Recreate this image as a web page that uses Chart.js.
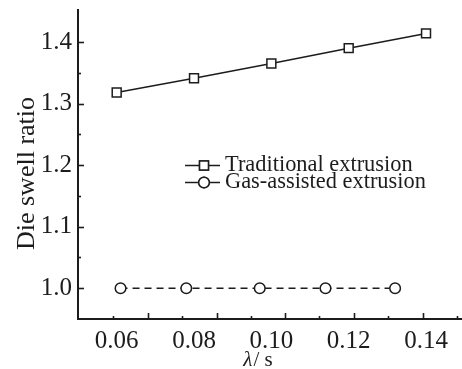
<!DOCTYPE html>
<html>
<head>
<meta charset="utf-8">
<script src="https://cdn.jsdelivr.net/npm/chart.js@4"></script>
<style>
  html, body { margin: 0; padding: 0; background: #ffffff; }
  #wrap { width: 462px; height: 369px; }
</style>
</head>
<body>
<div id="wrap"><canvas id="c" width="462" height="369"></canvas></div>
<script>
// ---- data ----
const traditionalX = [0.06, 0.08, 0.10, 0.12, 0.14];
const traditionalY = [1.318, 1.341, 1.365, 1.390, 1.414];
const gasX = [0.061, 0.078, 0.097, 0.114, 0.132];
const gasY = [1.0, 1.0, 1.0, 1.0, 1.0];
const seriesNames = ['Traditional extrusion', 'Gas-assisted extrusion'];
const xTickLabels = [0.06, 0.08, 0.10, 0.12, 0.14];
const yTickLabels = [1.0, 1.1, 1.2, 1.3, 1.4];
const xMajorMarks = [0.0681, 0.0859, 0.1035, 0.1213, 0.1392];
const xMinorMarks = [0.0590, 0.0769, 0.0947, 0.1123, 0.1301, 0.1480];
const yMinorMarks = [1.05, 1.15, 1.25, 1.35];
const xTitleItalic = 'λ';
const xTitleRest = '/ s';
const yTitle = 'Die swell ratio';

const INK = '#1c1c1c';
const FONT = "'Liberation Serif', 'Times New Roman', serif";
Chart.defaults.font.family = FONT;
Chart.defaults.color = INK;

const decor = {
  id: 'decor',
  afterDraw(chart) {
    const ctx = chart.ctx;
    const xs = chart.scales.x, ys = chart.scales.y;
    const a = chart.chartArea;
    ctx.save();
    ctx.strokeStyle = INK;
    ctx.lineWidth = 1.6;
    // inward ticks
    const tick = (px, py, dx, dy) => { ctx.beginPath(); ctx.moveTo(px, py); ctx.lineTo(px + dx, py + dy); ctx.stroke(); };
    xMajorMarks.forEach(v => tick(Math.round(xs.getPixelForValue(v)) + 0.5, a.bottom, 0, -6));
    xMinorMarks.forEach(v => tick(Math.round(xs.getPixelForValue(v)) + 0.5, a.bottom, 0, -3));
    yTickLabels.forEach(v => tick(a.left, Math.round(ys.getPixelForValue(v)) + 0.5, 6, 0));
    yMinorMarks.forEach(v => tick(a.left, Math.round(ys.getPixelForValue(v)) + 0.5, 3, 0));

    // axis titles
    ctx.fillStyle = INK;
    ctx.font = '26px ' + FONT;
    ctx.textAlign = 'center';
    ctx.textBaseline = 'middle';
    ctx.save();
    ctx.translate(a.left - 51, (a.top + a.bottom) / 2 + 9);
    ctx.rotate(-Math.PI / 2);
    ctx.fillText(yTitle, 0, 0);
    ctx.restore();

    ctx.textAlign = 'left';
    ctx.textBaseline = 'alphabetic';
    ctx.font = 'italic 21px ' + FONT;
    const w1 = ctx.measureText(xTitleItalic).width;
    ctx.font = '21px ' + FONT;
    const w2 = ctx.measureText(xTitleRest).width;
    const cx = a.left + 180;
    const x0 = cx - (w1 + w2 + 1) / 2;
    const by = 366;
    ctx.font = 'italic 21px ' + FONT;
    ctx.fillText(xTitleItalic, x0, by);
    ctx.font = '21px ' + FONT;
    ctx.fillText(xTitleRest, x0 + w1 + 1, by);

    // legend
    const rows = [165, 182];
    chart.data.datasets.forEach((ds, i) => {
      const y = rows[i];
      ctx.strokeStyle = INK;
      ctx.lineWidth = 1.5;
      ctx.setLineDash([]);
      ctx.beginPath(); ctx.moveTo(185, y + 0.5); ctx.lineTo(220, y + 0.5); ctx.stroke();
      Chart.helpers.drawPoint(ctx, {
        pointStyle: ds.pointStyle, radius: ds.pointRadius, borderWidth: 1.5, rotation: 0
      }, 204, y + 0.5);
      ctx.fillStyle = '#ffffff';
      ctx.fill();
      ctx.stroke();
      ctx.fillStyle = INK;
      ctx.font = '22.4px ' + FONT;
      ctx.textAlign = 'left';
      ctx.textBaseline = 'middle';
      ctx.fillText(ds.label, 225, y);
    });
    ctx.restore();
  }
};

new Chart(document.getElementById('c'), {
  type: 'scatter',
  data: {
    datasets: [
      {
        label: seriesNames[0],
        data: traditionalX.map((x, i) => ({ x, y: traditionalY[i] })),
        showLine: true,
        borderColor: INK,
        borderWidth: 1.5,
        pointStyle: 'rect',
        pointRadius: 6.3,
        pointBorderWidth: 1.5,
        pointBackgroundColor: '#ffffff',
        pointBorderColor: INK
      },
      {
        label: seriesNames[1],
        data: gasX.map((x, i) => ({ x, y: gasY[i] })),
        showLine: true,
        borderColor: INK,
        borderWidth: 1.5,
        borderDash: [7, 5],
        pointStyle: 'circle',
        pointRadius: 5.3,
        pointBorderWidth: 1.5,
        pointBackgroundColor: '#ffffff',
        pointBorderColor: INK
      }
    ]
  },
  options: {
    responsive: false,
    animation: false,
    devicePixelRatio: 1,
    layout: { autoPadding: false, padding: { top: 10, right: 0, left: 0, bottom: 0 } },
    plugins: { legend: { display: false }, tooltip: { enabled: false } },
    scales: {
      x: {
        type: 'linear',
        min: 0.05,
        max: 0.1493,
        afterBuildTicks: s => { s.ticks = xTickLabels.map(v => ({ value: v })); },
        afterFit: s => { s.height = 50; s.paddingLeft = 0; s.paddingRight = 0; },
        grid: { display: false, drawTicks: false },
        border: { display: true, color: INK, width: 2 },
        ticks: {
          padding: 7,
          font: { size: 25 },
          color: INK,
          callback: v => Number(v).toFixed(2)
        }
      },
      y: {
        type: 'linear',
        min: 0.95,
        max: 1.452,
        afterBuildTicks: s => { s.ticks = yTickLabels.map(v => ({ value: v })); },
        afterFit: s => { s.width = 78; s.paddingTop = 0; s.paddingBottom = 0; },
        grid: { display: false, drawTicks: false },
        border: { display: true, color: INK, width: 2 },
        ticks: {
          padding: 6,
          font: { size: 25 },
          color: INK,
          callback: v => Number(v).toFixed(1)
        }
      }
    }
  },
  plugins: [decor]
});
</script>
</body>
</html>
